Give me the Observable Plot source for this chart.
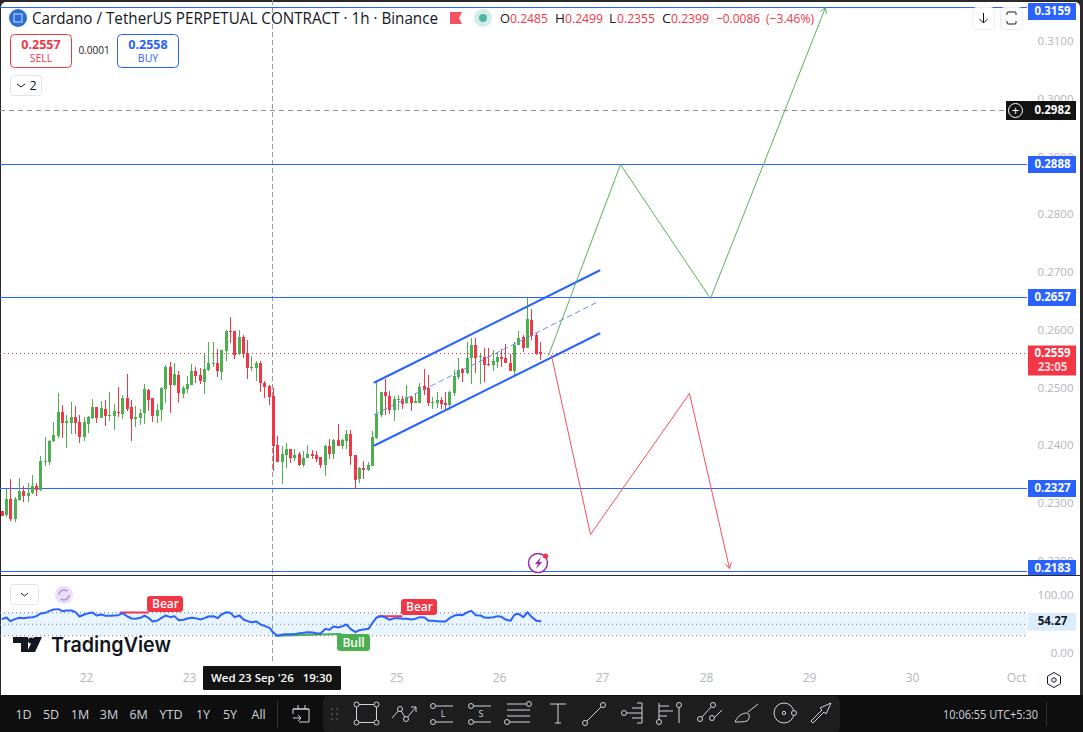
<!DOCTYPE html>
<html><head><meta charset="utf-8">
<script src="https://cdn.jsdelivr.net/npm/d3@7"></script>
<script src="https://cdn.jsdelivr.net/npm/@observablehq/plot@0.6"></script>
<style>
html,body{margin:0;padding:0;background:#2a2a2a;overflow:hidden}
#stage{position:relative;width:1083px;height:732px;overflow:hidden}
#pane{position:absolute;left:1px;top:2px;width:1079px;height:693px;background:#fff;border-radius:5px 5px 0 0}
#gap{position:absolute;left:0;top:575px;width:1083px;height:1px;background:#2a2a2a}
#bar{position:absolute;left:0;top:695px;width:1083px;height:37px;background:#0f0f0f}
svg{position:absolute}
</style></head><body><div id="stage"><div id="pane"></div><div id="gap"></div><div id="bar"></div></div>
<script>
// ---------- candle values (1h, first bar 21 Sep 04:30) ----------
const firstCandle = Date.UTC(2026,8,21,4,30);
const opens = [.2286,.2279,.2307,.2272,.2305,.2321,.2312,.2317,.2329,.2323,
.2371,.2371,.2407,.2416,.2458,.2439,.2439,.2449,.2440,.2414,
.2437,.2447,.2466,.2447,.2463,.2451,.2451,.2458,.2454,.2482,
.2466,.2445,.2447,.2456,.2496,.2482,.2451,.2461,.2497,.2536,
.2504,.2522,.2489,.2497,.2504,.2529,.2522,.2510,.2530,.2541,
.2542,.2527,.2563,.2598,.2598,.2558,.2587,.2560,.2534,.2534,
.2542,.2508,.2503,.2485,.2400,.2371,.2383,.2394,.2378,.2385,
.2366,.2378,.2385,.2383,.2380,.2366,.2399,.2385,.2409,.2399,
.2407,.2419,.2383,.2342,.2361,.2357,.2364,.2413,.2452,.2492,
.2485,.2461,.2478,.2480,.2473,.2484,.2473,.2473,.2503,.2499,
.2473,.2473,.2478,.2473,.2470,.2490,.2518,.2532,.2525,.2551,
.2574,.2553,.2553,.2541,.2539,.2544,.2553,.2551,.2542,.2529,
.2574,.2587,.2568,.2617,.2591,.2561];
const highs = [.2286,.2324,.2342,.2311,.2344,.2329,.2335,.2349,.2335,.2381,
.2414,.2409,.2440,.2491,.2470,.2452,.2475,.2468,.2452,.2449,
.2451,.2480,.2466,.2477,.2478,.2492,.2471,.2501,.2487,.2523,
.2478,.2468,.2463,.2506,.2497,.2482,.2471,.2501,.2539,.2544,
.2542,.2529,.2503,.2520,.2541,.2536,.2534,.2558,.2579,.2579,
.2567,.2565,.2600,.2622,.2598,.2600,.2591,.2582,.2555,.2546,
.2546,.2511,.2504,.2499,.2416,.2399,.2404,.2394,.2394,.2388,
.2390,.2400,.2392,.2390,.2380,.2400,.2411,.2411,.2437,.2411,
.2426,.2426,.2383,.2362,.2373,.2371,.2425,.2510,.2492,.2515,
.2494,.2485,.2487,.2485,.2504,.2485,.2490,.2508,.2532,.2522,
.2484,.2492,.2484,.2492,.2494,.2530,.2551,.2534,.2579,.2586,
.2586,.2558,.2568,.2568,.2565,.2561,.2567,.2575,.2558,.2579,
.2598,.2591,.2656,.2636,.2594,.2579];
const lows = [.2278,.2276,.2269,.2268,.2303,.2302,.2302,.2316,.2313,.2321,
.2364,.2366,.2406,.2413,.2413,.2395,.2420,.2420,.2404,.2407,
.2421,.2445,.2439,.2447,.2433,.2442,.2426,.2449,.2445,.2459,
.2407,.2432,.2435,.2437,.2459,.2440,.2439,.2442,.2473,.2456,
.2503,.2473,.2482,.2490,.2504,.2508,.2506,.2489,.2529,.2536,
.2518,.2513,.2546,.2577,.2549,.2556,.2551,.2515,.2529,.2511,
.2492,.2482,.2470,.2355,.2371,.2333,.2361,.2369,.2373,.2364,
.2362,.2378,.2376,.2371,.2361,.2347,.2376,.2376,.2399,.2394,
.2394,.2366,.2327,.2335,.2342,.2355,.2364,.2411,.2449,.2452,
.2454,.2442,.2461,.2463,.2471,.2459,.2473,.2473,.2487,.2468,
.2463,.2465,.2463,.2463,.2461,.2485,.2515,.2510,.2523,.2506,
.2525,.2506,.2510,.2537,.2529,.2534,.2536,.2542,.2529,.2522,
.2574,.2561,.2568,.2582,.2556,.2548];
const closes = [.2278,.2308,.2272,.2307,.2321,.2312,.2317,.2329,.2323,.2373,
.2373,.2407,.2418,.2458,.2439,.2442,.2449,.2439,.2414,.2440,
.2449,.2466,.2447,.2465,.2451,.2452,.2459,.2456,.2482,.2463,
.2445,.2449,.2456,.2497,.2478,.2451,.2461,.2499,.2536,.2504,
.2523,.2490,.2499,.2506,.2529,.2520,.2511,.2532,.2542,.2542,
.2529,.2565,.2598,.2596,.2556,.2587,.2558,.2534,.2536,.2542,
.2508,.2501,.2484,.2399,.2371,.2385,.2394,.2378,.2383,.2366,
.2378,.2385,.2381,.2376,.2366,.2399,.2385,.2409,.2399,.2409,
.2419,.2381,.2340,.2361,.2357,.2366,.2414,.2454,.2492,.2485,
.2461,.2480,.2480,.2471,.2484,.2473,.2477,.2501,.2496,.2473,
.2475,.2478,.2471,.2470,.2492,.2520,.2530,.2525,.2551,.2574,
.2551,.2555,.2539,.2539,.2546,.2553,.2549,.2542,.2529,.2574,
.2586,.2568,.2619,.2589,.2558,.2558];
const rsiValues = [59.4,61.7,55.4,59.4,61.2,60.6,61.7,62.3,64.1,68.7,69.9,73.3,75.7,76.2,72.8,73.9,73.9,71,63.5,67,
69.3,70.4,65.2,67,64.6,64.6,65.2,65.8,69.3,63.5,60,59.4,61.2,65.2,61.2,54.8,56.5,61.2,65.2,62.3,
64.1,57.1,57.7,60,61.2,60.6,58.3,60.6,63.5,64.1,60.6,67,71,69.9,62.3,65.2,58.3,55.4,53.6,54.8,
49.6,47.2,43.8,35.1,29.9,32.2,32.8,32.8,32.8,34.5,35.1,36.2,35.7,34.5,33.9,42,40.3,46.1,44.3,46.7,
49.6,42,36.2,39.7,40.9,42,52.5,61.7,64.1,61.7,57.7,60.6,60.6,59.4,59.4,58.3,59.4,62.3,61.7,55.9,
55.9,55.4,54.8,54.8,60.6,65.2,66.4,65.8,71,73.3,65.8,65.2,61.7,61.2,62.3,64.1,62.9,58.3,55.9,66.4,
68.1,62.3,71,62.9,55.9,55.4];

// ---------- levels and tick labels ----------
const levelPrices = [0.3159,0.2888,0.2657,0.2327,0.2183];
const priceTicks = [0.22,0.23,0.24,0.25,0.26,0.27,0.28,0.29,0.30,0.31];
const lastPrice = 0.2559, crossPrice = 0.2982;
const dayTicks = [22,23,25,26,27,28,29,30,31].map(d=>new Date(Date.UTC(2026,8,d)));
const dayLabels = ["22","23","25","26","27","28","29","30","Oct"];
const rsiTicks = [0,100];
const bandLevels = [30,50,70];
const crossTime = new Date("2026-09-23T19:30Z");

// ---------- drawings ----------
const channelTimes = ["2026-09-24T19:02Z","2026-09-26T23:14Z"];
const channelUpper = [0.25095,0.27035];
const channelLower = [0.24004,0.25944];
const channelMid = [0.24550,0.26480];
const channelMidTimes = ["2026-09-24T19:02Z","2026-09-26T22:30Z"];
const greenTimes = ["2026-09-26T11:24Z","2026-09-27T04:06Z","2026-09-28T01:00Z","2026-09-29T03:42Z"];
const greenPrices = [0.25563,0.2888,0.2655,0.3159];
const redTimes = ["2026-09-26T12:06Z","2026-09-26T21:06Z","2026-09-27T20:06Z","2026-09-28T05:24Z"];
const redPrices = [0.2556,0.22463,0.24905,0.21875];
const rsiMarks = [
 {label:"Bear",kind:"bear",from:"2026-09-22T08:00Z",to:"2026-09-22T14:14Z",a:70.4,b:70.4,x1:"2026-09-22T14:14Z",x2:"2026-09-22T22:36Z",y1:70.4,y2:98.3},
 {label:"Bear",kind:"bear",from:"2026-09-24T19:54Z",to:"2026-09-25T01:12Z",a:64,b:64,x1:"2026-09-25T01:12Z",x2:"2026-09-25T09:36Z",y1:65.2,y2:93},
 {label:"Bull",kind:"bull",from:"2026-09-23T20:00Z",to:"2026-09-24T11:00Z",a:29.9,b:33,x1:"2026-09-24T10:24Z",x2:"2026-09-24T18:00Z",y1:2.6,y2:32.2}
];

// ---------- colours and layout bounds ----------
const UP="#4caf50", DOWN="#f23645", BLUE="#2962ff", AXIS="#b2b5be", FONT="'Open Sans','Liberation Sans',Arial,sans-serif";
const xDomain = [new Date("2026-09-21T04:05:35Z"), new Date("2026-10-01T15:39:36Z")];
const paneEnd = new Date("2026-10-01T02:40Z");
const gutterStart = new Date("2026-10-01T02:54Z"), gutterEnd = new Date("2026-10-01T14:03Z");
const crossTagStart = new Date("2026-09-30T21:48Z"), crossIcon = new Date("2026-09-30T23:50Z");
const xScale = {type:"utc",domain:xDomain,range:[0,1083],round:true};

const candles = opens.map((o,i)=>({t:new Date(firstCandle+i*3600000),o,h:highs[i],l:lows[i],c:closes[i],rsi:rsiValues[i],col:closes[i]>=o?UP:DOWN}));
const path = (ts,ps)=>ts.map((t,i)=>({t:new Date(t),p:ps[i]}));
const seg = (ts,ps,opts)=>Plot.line(path(ts,ps),{x:"t",y:"p",...opts});
const lastSeg = (ts,ps,color)=>{const n=ts.length-1;return Plot.arrow([0],{x1:()=>new Date(ts[n-1]),y1:()=>ps[n-1],x2:()=>new Date(ts[n]),y2:()=>ps[n],stroke:color,strokeWidth:1,headLength:9,bend:0,insetEnd:0});};
const tag = (price,bg,fg,label,dy=0,h=17)=>[
  Plot.ruleY([price],{y:d=>d,x1:()=>gutterStart,x2:()=>gutterEnd,stroke:bg,strokeWidth:h,dy}),
  Plot.text([price],{y:d=>d,text:()=>label,frameAnchor:"right",dx:-31,dy,fill:fg,fontWeight:700,fontSize:11.5,textAnchor:"middle"})
];

// ---------- main pane ----------
const main = Plot.plot({
  width:1083,height:575,marginLeft:0,marginRight:0,marginTop:0,marginBottom:0,
  style:{position:"absolute",left:0,top:0,background:"transparent",fontFamily:FONT,fontSize:"12px",maxWidth:"none"},
  x:{...xScale,axis:null},
  y:{domain:[0.217568,0.317134],range:[575,0],round:true,axis:null},
  marks:[
    Plot.axisY({ticks:priceTicks,anchor:"right",tickSize:0,tickPadding:0,dx:-10,textAnchor:"end",tickFormat:d3.format(".4f"),fill:AXIS,fontSize:11.5,label:null}),
    Plot.ruleX([crossTime],{x:d=>d,dx:-1,stroke:"#9598a1",strokeDasharray:"5 3",strokeWidth:1}),
    Plot.ruleY([lastPrice],{y:d=>d,dy:-1,x1:()=>xDomain[0],x2:()=>paneEnd,stroke:"#d4344a",strokeDasharray:"1 3",strokeWidth:1}),
    Plot.ruleY([crossPrice],{y:d=>d,dy:1,x1:()=>xDomain[0],x2:()=>paneEnd,stroke:"#8a8d96",strokeDasharray:"5 4",strokeWidth:1}),
    Plot.ruleY(levelPrices,{y:d=>d,x1:()=>xDomain[0],x2:()=>paneEnd,stroke:BLUE,strokeWidth:1}),
    Plot.ruleX(candles,{x:"t",y1:"l",y2:"h",stroke:"col",strokeWidth:1}),
    Plot.ruleX(candles,{x:"t",y1:"o",y2:"c",stroke:"col",strokeWidth:3}),
    seg(channelTimes,channelUpper,{stroke:BLUE,strokeWidth:2}),
    seg(channelTimes,channelLower,{stroke:BLUE,strokeWidth:2}),
    seg(channelMidTimes,channelMid,{stroke:"#5f8dff",strokeWidth:1,strokeDasharray:"5 4"}),
    seg(greenTimes.slice(0,3),greenPrices.slice(0,3),{stroke:"#5cad5f",strokeWidth:1}),
    lastSeg(greenTimes,greenPrices,"#5cad5f"),
    seg(redTimes.slice(0,3),redPrices.slice(0,3),{stroke:"#f4505c",strokeWidth:1}),
    lastSeg(redTimes,redPrices,"#f4505c"),
    tag(levelPrices[0],BLUE,"#fff","0.3159",4),
    tag(levelPrices[1],BLUE,"#fff","0.2888"),
    tag(levelPrices[2],BLUE,"#fff","0.2657"),
    tag(levelPrices[3],BLUE,"#fff","0.2327"),
    tag(levelPrices[4],BLUE,"#fff","0.2183",-3),
    Plot.ruleY([crossPrice],{y:d=>d,dy:1,x1:()=>crossTagStart,x2:()=>gutterEnd,stroke:"#131313",strokeWidth:19}),
    Plot.text([crossPrice],{y:d=>d,text:()=>"0.2982",frameAnchor:"right",dx:-31,dy:1,fill:"#fff",fontWeight:700,fontSize:11.5,textAnchor:"middle"}),
    Plot.dot([crossPrice],{x:()=>crossIcon,y:d=>d,dy:1,r:7,stroke:"#fff",strokeWidth:1,fill:"none"}),
    Plot.text([crossPrice],{x:()=>crossIcon,y:d=>d,dy:1,text:()=>"+",fill:"#fff",fontSize:13}),
    Plot.ruleY([lastPrice],{y:d=>d,x1:()=>gutterStart,x2:()=>gutterEnd,stroke:DOWN,strokeWidth:30,dy:6}),
    Plot.text([lastPrice],{y:d=>d,text:()=>"0.2559",frameAnchor:"right",dx:-31,dy:-1,fill:"#fff",fontWeight:700,fontSize:11.5,textAnchor:"middle"}),
    Plot.text([lastPrice],{y:d=>d,text:()=>"23:05",frameAnchor:"right",dx:-31,dy:13,fill:"#ffd9dd",fontWeight:700,fontSize:11.5,textAnchor:"middle"})
  ]
});

// ---------- RSI pane with time axis ----------
const bandBox = [{x1:xDomain[0],x2:paneEnd,y1:bandLevels[0],y2:bandLevels[2]}];
const rsiPane = Plot.plot({
  width:1083,height:119,marginLeft:0,marginRight:0,marginTop:0,marginBottom:31,
  style:{position:"absolute",left:0,top:"576px",background:"transparent",fontFamily:FONT,fontSize:"12px",maxWidth:"none",overflow:"visible"},
  x:{...xScale},
  y:{domain:[-20,133.04],axis:null},
  marks:[
    Plot.rect(bandBox,{x1:"x1",x2:"x2",y1:"y1",y2:"y2",fill:"#2196f3",fillOpacity:0.1}),
    Plot.ruleY(bandLevels,{y:d=>d,x1:()=>xDomain[0],x2:()=>paneEnd,stroke:"#787b86",strokeDasharray:"1 3",strokeWidth:1}),
    Plot.axisY({ticks:rsiTicks,anchor:"right",tickSize:0,tickPadding:0,dx:-10,textAnchor:"end",tickFormat:d3.format(".2f"),fill:AXIS,fontSize:11.5,label:null}),
    Plot.ruleX([crossTime],{x:d=>d,dx:-1,stroke:"#9598a1",strokeDasharray:"5 3",strokeWidth:1}),
    Plot.axisX({ticks:dayTicks,tickSize:0,tickPadding:9,tickFormat:d=>dayLabels[dayTicks.findIndex(v=>+v===+d)],fill:AXIS,fontSize:12,label:null}),
    ...rsiMarks.map(m=>Plot.line([{t:new Date(m.from),v:m.a},{t:new Date(m.to),v:m.b}],{x:"t",y:"v",stroke:m.kind==="bear"?DOWN:UP,strokeWidth:2})),
    Plot.line(candles,{x:"t",y:"rsi",stroke:BLUE,strokeWidth:2,curve:"linear"}),
    ...rsiMarks.flatMap(m=>[
      Plot.rect([m],{x1:d=>new Date(d.x1),x2:d=>new Date(d.x2),y1:"y1",y2:"y2",fill:m.kind==="bear"?DOWN:UP,r:3}),
      Plot.text([m],{x:d=>new Date((+new Date(d.x1)+ +new Date(d.x2))/2),y:d=>(d.y1+d.y2)/2,text:"label",fill:"#fff",fontSize:12,fontWeight:600})
    ]),
    Plot.ruleY([54.27],{y:d=>d,x1:()=>gutterStart,x2:()=>gutterEnd,stroke:"#dcecfc",strokeWidth:18}),
    Plot.text([54.27],{y:d=>d,text:d=>d3.format(".2f")(d),frameAnchor:"right",dx:-31,fill:"#131722",fontWeight:700,fontSize:11.5,textAnchor:"middle"}),
    Plot.rect([{x1:"2026-09-23T03:12Z",x2:"2026-09-24T11:18Z",y1:-23.5,y2:-65.2}],{x1:d=>new Date(d.x1),x2:d=>new Date(d.x2),y1:"y1",y2:"y2",fill:"#131313",r:1}),
    Plot.text([crossTime],{x:d=>d,y:()=>-44,text:()=>"Wed 23 Sep '26   19:30",fill:"#fff",fontSize:11.5,fontWeight:600,dx:-2})
  ]
});

const stage = document.getElementById("stage");
stage.appendChild(main);
stage.appendChild(rsiPane);

// ---------- application chrome ----------
const T=(x,y,s,o={})=>`<text x="${x}" y="${y}" font-size="${o.size||13}" fill="${o.fill||"#131722"}" font-weight="${o.weight||400}" text-anchor="${o.anchor||"start"}" ${o.font?`font-family="${o.font}"`:""} ${o.len?`textLength="${o.len}" lengthAdjust="spacingAndGlyphs"`:""}>${s}</text>`;
const ic="#d1d4dc";
const C=(x,y,r=2.5)=>`<circle cx="${x}" cy="${y}" r="${r}" fill="#1e1e1e" stroke="${ic}"/>`;
const L=(d,col=ic)=>`<path d="${d}" fill="none" stroke="${col}"/>`;
const ranges=[["1D",23.5],["5D",51],["1M",80],["3M",109],["6M",138.6],["YTD",171],["1Y",203],["5Y",230],["All",258.6]];
const RED="#f23645";
const chrome=document.createElementNS("http://www.w3.org/2000/svg","svg");
chrome.setAttribute("width",1083);chrome.setAttribute("height",732);
chrome.setAttribute("style",`left:0;top:0;font-family:${FONT}`);
chrome.innerHTML=`
<circle cx="18" cy="18" r="9" fill="#2a6fd6"/><rect x="14" y="14" width="8" height="8" fill="none" stroke="#cfe0fa"/>
${T(32,24,"Cardano / TetherUS PERPETUAL CONTRACT · 1h · Binance",{size:15.5,len:406})}
<path d="M450 12h12l-3 6 3 6h-12z" fill="#f7525f"/>
<circle cx="483" cy="18" r="9" fill="#d4ede8"/><circle cx="483" cy="18" r="4" fill="#4cb8a4"/>
${T(500,23,"O",{len:10})}${T(510,23,"0.2485",{fill:RED,len:38})}
${T(555,23,"H",{len:10})}${T(565,23,"0.2499",{fill:RED,len:38})}
${T(609,23,"L",{len:7})}${T(617,23,"0.2355",{fill:RED,len:38})}
${T(662,23,"C",{len:9})}${T(671,23,"0.2399",{fill:RED,len:38})}
${T(716,23,"−0.0086",{fill:RED,len:44})}${T(766,23,"(−3.46%)",{fill:RED,len:48})}
<rect x="10.5" y="34.5" width="61" height="33" rx="4" fill="#fff" stroke="${RED}"/>
${T(41,49,"0.2557",{fill:RED,weight:700,size:12.5,anchor:"middle"})}${T(41,62,"SELL",{fill:RED,size:10.5,anchor:"middle"})}
${T(94,54,"0.0001",{size:10,anchor:"middle"})}
<rect x="117.5" y="34.5" width="61" height="33" rx="4" fill="#fff" stroke="${BLUE}"/>
${T(148,49,"0.2558",{fill:BLUE,weight:700,size:12.5,anchor:"middle"})}${T(148,62,"BUY",{fill:BLUE,size:10.5,anchor:"middle"})}
<rect x="10.5" y="75.5" width="31" height="20" rx="3" fill="#fff" stroke="#e0e3eb"/>
${L("M17 84l4 3 4-3","#131722")}${T(33,90,"2",{size:12.5,anchor:"middle"})}
<rect x="972.5" y="7.5" width="22" height="22" rx="4" fill="#fff" stroke="#eceef2"/>
${L("M983.5 13v10M979.5 19l4 4 4-4","#131722")}
<rect x="1000.5" y="7.5" width="22" height="22" rx="4" fill="#fff" stroke="#eceef2"/>
${L("M1007 15v-2a1 1 0 0 1 1-1h7a1 1 0 0 1 1 1v2M1007 21v2a1 1 0 0 0 1 1h7a1 1 0 0 0 1-1v-2","#131722")}
<circle cx="538" cy="563" r="9.5" fill="#fff" stroke="#9c27b0" stroke-width="1.5"/>
<path d="M541 557l-6 7h3l-2 5 6-7h-3z" fill="#9c27b0"/><circle cx="545.5" cy="556" r="2.6" fill="#f23645"/>
<rect x="10.5" y="584.5" width="28" height="20" rx="3" fill="#fff" stroke="#e0e3eb"/>
${L("M21 593l3.5 3 3.5-3","#131722")}
<circle cx="64" cy="595" r="9" fill="#eadff8"/><circle cx="64" cy="595" r="5" fill="none" stroke="#b388e8" stroke-width="1.5" stroke-dasharray="11 4.7"/>
<path d="M13 637h15v15h-7v-9h-8z M42 637l-7 15h-8l7-15z" fill="#131722"/>
<circle cx="31" cy="640.5" r="3" fill="#131722"/>
${T(51,652,"TradingView",{size:20.5,weight:600,len:120,font:"Inter"})}
<path d="M1054 672.5l6.5 3.7v7.6l-6.5 3.7-6.5-3.7v-7.6z" fill="none" stroke="#131722"/><circle cx="1054" cy="680" r="2.2" fill="none" stroke="#131722"/>
${ranges.map(([s,x])=>T(x,719,s,{fill:ic,size:12.5,anchor:"middle"})).join("")}
<path d="M277.5 700v28" stroke="#333"/>
<path d="M293 714v-5h16v13h-10M293 709h16M298 705v4M305 705v4M293 718h8M298 715l3 3-3 3" fill="none" stroke="${ic}"/>
<rect x="323" y="696" width="517" height="36" rx="6" fill="#1e1e1e"/>
<g fill="#555"><circle cx="332" cy="709" r="1"/><circle cx="337" cy="709" r="1"/><circle cx="332" cy="714" r="1"/><circle cx="337" cy="714" r="1"/><circle cx="332" cy="719" r="1"/><circle cx="337" cy="719" r="1"/></g>
<rect x="356.5" y="704.5" width="20" height="18" fill="none" stroke="${ic}"/>${C(356.5,704.5)}${C(376.5,704.5)}${C(356.5,722.5)}${C(376.5,722.5)}
${L("M392 718l8-9 6 10 10-12M411 707h5v5")}${C(400,709)}${C(406,719)}
${L("M436 706h17M436 722h17")}${C(433,706)}${C(433,722)}${T(443,717,"L",{fill:ic,size:9,anchor:"middle"})}
${L("M474 706h17M474 722h17")}${C(471,706)}${C(471,722)}${T(481,717,"S",{fill:ic,size:9,anchor:"middle"})}
${L("M507 704h20M507 710h23M507 716h23M510 722h20")}${C(529,704)}${C(507,722)}
${L("M550 704h16M558 704v19M555 723h6")}
${L("M585 723l18-18")}${C(585,723)}${C(603,705)}
${L("M627 713h15M642 703v20M632 708h10M632 718h10M637 703h5M637 723h5")}${C(624,713)}
${L("M659 703v17M659 706h10M659 711h14M659 716h8")}${C(659,722)}${L("M679 707v16")}${C(679,705)}
${L("M702 717l9-10M715 717l7-7")}${C(700,719)}${C(713,705)}${C(712,718)}
${L("M735 722c3-7 8-9 12-9 3 0 3 6 0 8-3 1-8 1-12 1zM748 712l10-8")}
<circle cx="784" cy="713" r="10" fill="none" stroke="${ic}"/>${C(784,713,1.7)}${C(794,713)}
${L("M813 723l-2-2 11-11-2-2 11-5-5 11-2-2-11 11z")}
${T(943,719,"10:06:55 UTC+5:30",{fill:ic,size:13,len:95})}
<path d="M1046.5 702v24" stroke="#333"/>`;
stage.appendChild(chrome);
</script></body></html>
